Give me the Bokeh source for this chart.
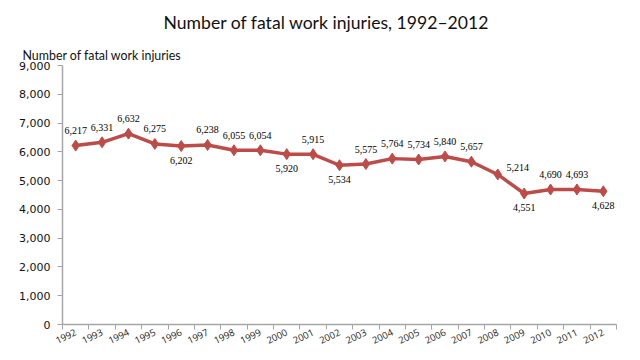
import math
from bokeh.plotting import figure
from bokeh.models import (ColumnDataSource, LabelSet, FixedTicker, NumeralTickFormatter,
                          Range1d, Title)
from bokeh.embed import file_html
from bokeh.resources import INLINE

years = list(range(1992, 2013))
fatal_injuries = [6217, 6331, 6632, 6275, 6202, 6238, 6055, 6054, 5920, 5915,
                  5534, 5575, 5764, 5734, 5840, 5657, 5214, 4551, 4690, 4693, 4628]
label_side = ["above", "above", "above", "above", "below", "above", "above", "above",
              "below", "above", "below", "above", "above", "above", "above", "above",
              "right", "below", "above", "above", "below"]
y_ticks = [0, 1000, 2000, 3000, 4000, 5000, 6000, 7000, 8000, 9000]

RED = "#be4b48"
GRAY = "#a6a6a6"

offsets = {"above": (0, 15), "below": (0, -14), "right": (20, 7)}
src = ColumnDataSource(dict(
    x=years, y=fatal_injuries,
    txt=[f"{v:,}" for v in fatal_injuries],
    xo=[offsets[s][0] for s in label_side],
    yo=[offsets[s][1] for s in label_side],
))

p = figure(width=624, height=352, output_backend="svg", toolbar_location=None,
           x_range=Range1d(1991.5, 2012.5), y_range=Range1d(0, 9000),
           min_border_left=62, min_border_right=8, min_border_top=0, min_border_bottom=28)
p.outline_line_color = None
p.grid.visible = False
p.background_fill_color = "white"
p.border_fill_color = "white"

p.line("x", "y", source=src, line_color=RED, line_width=3.5)
p.scatter("x", "y", source=src, marker="diamond", size=11, color=RED)

labels = LabelSet(x="x", y="y", text="txt", x_offset="xo", y_offset="yo", source=src,
                  text_align="center", text_baseline="middle",
                  text_font="Noto Sans", text_font_size="10px", text_color="#000000")
p.add_layout(labels)

xa = p.xaxis[0]
xa.ticker = FixedTicker(ticks=years, minor_ticks=[y - 0.5 for y in years] + [years[-1] + 0.5])
xa.major_label_overrides = {y: str(y) for y in years}
xa.major_tick_out = 0
xa.major_tick_in = 0
xa.minor_tick_out = 5
xa.minor_tick_in = 0
xa.minor_tick_line_color = GRAY
xa.axis_line_color = GRAY
xa.axis_line_width = 1.5
xa.major_label_orientation = 0.45
xa.major_label_standoff = 2
xa.major_label_text_font = "Open Sans"
xa.major_label_text_font_size = "9.5px"
xa.major_label_text_color = "#222222"

ya = p.yaxis[0]
ya.ticker = FixedTicker(ticks=y_ticks, minor_ticks=[])
ya.formatter = NumeralTickFormatter(format="0,0")
ya.major_tick_out = 5
ya.major_tick_in = 0
ya.major_tick_line_color = GRAY
ya.axis_line_color = GRAY
ya.axis_line_width = 1.5
ya.major_label_standoff = 7
ya.major_label_text_font = "DejaVu Sans"
ya.major_label_text_font_size = "11px"
ya.major_label_text_color = "#111111"

p.add_layout(Title(text="Number of fatal work injuries", align="left", offset=-40,
                   text_font="Lato", text_font_size="12.4px", text_font_style="normal",
                   text_color="#111111", standoff=6), "above")
p.add_layout(Title(text="Number of fatal work injuries, 1992\u20132012", align="left",
                   offset=101, text_font="Lato", text_font_size="17.6px",
                   text_font_style="normal", text_color="#111111", standoff=19), "above")

open("out.html", "w").write(file_html(p, INLINE))
